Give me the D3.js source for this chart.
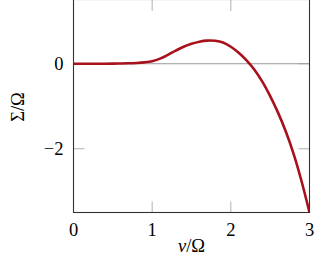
<!DOCTYPE html>
<html><head><meta charset="utf-8">
<script src="https://cdn.jsdelivr.net/npm/d3@7"></script>
<style>body{margin:0;background:#fff}svg{display:block}</style>
</head><body>
<svg id="c" width="325" height="266"></svg>
<script>
const nu =    [0,0.1,0.2,0.3,0.4,0.5,0.6,0.7,0.8,0.9,1.0,1.1,1.2,1.3,1.4,1.5,1.6,1.7,1.8,1.9,2.0,2.1,2.2,2.3,2.4,2.5,2.6,2.7,2.8,2.9,3.0];
const sigma = [0,0,0,0,0.001,0.003,0.006,0.011,0.019,0.033,0.06,0.12,0.21,0.31,0.40,0.47,0.52,0.545,0.54,0.50,0.40,0.26,0.08,-0.14,-0.42,-0.76,-1.15,-1.60,-2.13,-2.77,-3.5];
const xTicks = [0,1,2,3];
const yTicks = [-2,0];

const svg = d3.select("#c");
const L=73.5, R=309.5, T=0, B=212.5;
const x = d3.scaleLinear().domain([0,3]).range([L,R]);
const y = d3.scaleLinear().domain([-3.5,1.5]).range([B,T]);
const fs = 18.5;
const FF = "Liberation Serif, DejaVu Serif, serif";
const tickCol = "#b0b0b0", tl = 11;

const g = svg.append("g");
xTicks.forEach(t=>{
  g.append("line").attr("x1",x(t)).attr("x2",x(t)).attr("y1",B).attr("y2",B-tl).attr("stroke",tickCol);
  g.append("line").attr("x1",x(t)).attr("x2",x(t)).attr("y1",T).attr("y2",T+tl).attr("stroke",tickCol);
  svg.append("text").attr("x",x(t)).attr("y",235.5).attr("text-anchor","middle")
    .style("font-family",FF).style("font-size",fs+"px").text(t);
});
yTicks.forEach(t=>{
  g.append("line").attr("x1",L).attr("x2",L+tl).attr("y1",y(t)).attr("y2",y(t)).attr("stroke",tickCol);
  g.append("line").attr("x1",R).attr("x2",R-tl).attr("y1",y(t)).attr("y2",y(t)).attr("stroke",tickCol);
  svg.append("text").attr("x",63.5).attr("y",y(t)+6).attr("text-anchor","end")
    .style("font-family",FF).style("font-size",fs+"px").text(t<0?"−"+Math.abs(t):t);
});
svg.append("line").attr("x1",L).attr("x2",R).attr("y1",y(0)).attr("y2",y(0)).attr("stroke","#999").attr("stroke-width",1);

svg.append("clipPath").attr("id","cp").append("rect").attr("x",L).attr("y",T-2).attr("width",R-L).attr("height",B-T+2);
const line = d3.line().x((d,i)=>x(nu[i])).y(d=>y(d)).curve(d3.curveCatmullRom.alpha(0.5));
svg.append("path").attr("d",line(sigma)).attr("fill","none").attr("stroke","#a8101b")
  .attr("stroke-width",2.6).attr("clip-path","url(#cp)");

svg.append("rect").attr("x",L).attr("y",T-0.5).attr("width",R-L).attr("height",B-T+0.5)
  .attr("fill","none").attr("stroke","#333").attr("stroke-width",1.1);

svg.append("text").attr("x",(L+R)/2).attr("y",251.5).attr("text-anchor","middle")
  .style("font-family",FF).style("font-size",fs+"px")
  .html('<tspan font-style="italic">ν</tspan>/Ω');
svg.append("text").attr("transform","translate(23.5,107) rotate(-90)").attr("text-anchor","middle")
  .style("font-family",FF).style("font-size",fs+"px").text("Σ/Ω");
</script>
</body></html>
